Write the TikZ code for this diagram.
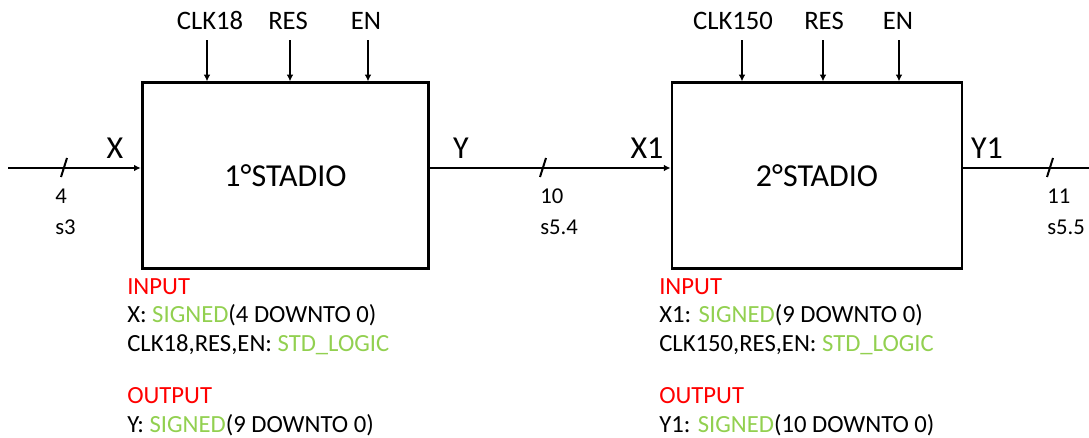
\documentclass[tikz,border=0pt]{standalone}
\usepackage{fontspec}
\setmainfont{Carlito}
\usepackage{xcolor}
\usetikzlibrary{arrows.meta,positioning}
\definecolor{headred}{RGB}{255,0,0}
\definecolor{typegreen}{RGB}{146,208,80}
\newcommand{\kw}[1]{\textcolor{typegreen}{#1}}
\newcommand{\sect}[1]{\textcolor{headred}{#1}}

\begin{document}
\begin{tikzpicture}[
  x=0.75pt, y=-0.75pt,
  stage/.style={draw,line width=2.2pt,minimum height=139pt,inner sep=0pt,font=\fontsize{24}{28}\selectfont},
  sig/.style={inner sep=0pt,font=\fontsize{24}{28}\selectfont},
  ctl/.style={anchor=base,inner sep=0pt,inner ysep=7.5pt,font=\fontsize{20}{24}\selectfont},
  bus/.style={anchor=base west,inner sep=0pt,font=\fontsize{17}{20}\selectfont},
  spec/.style={anchor=north west,align=left,inner sep=0pt,font=\fontsize{18.5}{21.5}\selectfont},
  wire/.style={line width=1.5pt},
  arr/.style={wire,-{Latex[length=5pt,width=5pt]}}
]
\useasboundingbox (0,0) rectangle (1089,438);

% the two stages
\node[stage,minimum width=215pt] (stageA) at (285.5,175.5) {1°STADIO};
\node[stage,minimum width=217.5pt] (stageB) at (817,175.5) {2°STADIO};

% control inputs on top
\foreach \tx/\ax/\n/\t in {210/207/clkA/CLK18, 288/290/resA/RES, 366/368/enA/EN}{
  \node[ctl] (\n) at (\tx,30) {\t};
  \draw[arr] (\n.south -| \ax,0) -- (stageA.north -| \ax,0);
}
\foreach \tx/\ax/\n/\t in {733/742/clkB/CLK150, 824/823/resB/RES, 898/899/enB/EN}{
  \node[ctl] (\n) at (\tx,30) {\t};
  \draw[arr] (\n.south -| \ax,0) -- (stageB.north -| \ax,0);
}

% data path
\coordinate (xin) at (8,168);
\coordinate (yout) at (1089,168);
\draw[arr] (xin) -- (stageA.west |- xin);
\draw[arr] (stageA.east |- xin) -- (stageB.west |- xin);
\draw[wire] (stageB.east |- yout) -- (yout);

% bus width marks
\foreach \bx in {64,543,1050}{
  \draw[wire] (\bx-3,177) -- (\bx+3,158);
}
\node[bus] (wA) at (55,204) {4};
\node[bus] (sA) at (55,235) {s3};
\node[bus] (wB) at (540,204) {10};
\node[bus] (sB) at (540,235) {s5.4};
\node[bus] (wC) at (1047,204) {11};
\node[bus] (sC) at (1047,235) {s5.5};

% port names
\node[sig] (lx) at (115,148) {X};
\node[sig] (ly) at (461,148) {Y};
\node[sig] (lx1) at (647,148) {X1};
\node[sig] (ly1) at (987,148) {Y1};

% port declarations
\node[spec] (specA) at (127,278) {\sect{INPUT}\\
  X: \kw{SIGNED}(4 DOWNTO 0)\\
  CLK18,RES,EN: \kw{STD\_LOGIC}\\[17.5pt]
  \sect{OUTPUT}\\
  Y: \kw{SIGNED}(9 DOWNTO 0)};
\node[spec] (specB) at (659,278) {\sect{INPUT}\\
  X1: \kw{SIGNED}(9 DOWNTO 0)\\
  CLK150,RES,EN: \kw{STD\_LOGIC}\\[17.5pt]
  \sect{OUTPUT}\\
  Y1: \kw{SIGNED}(10 DOWNTO 0)};
\end{tikzpicture}
\end{document}
